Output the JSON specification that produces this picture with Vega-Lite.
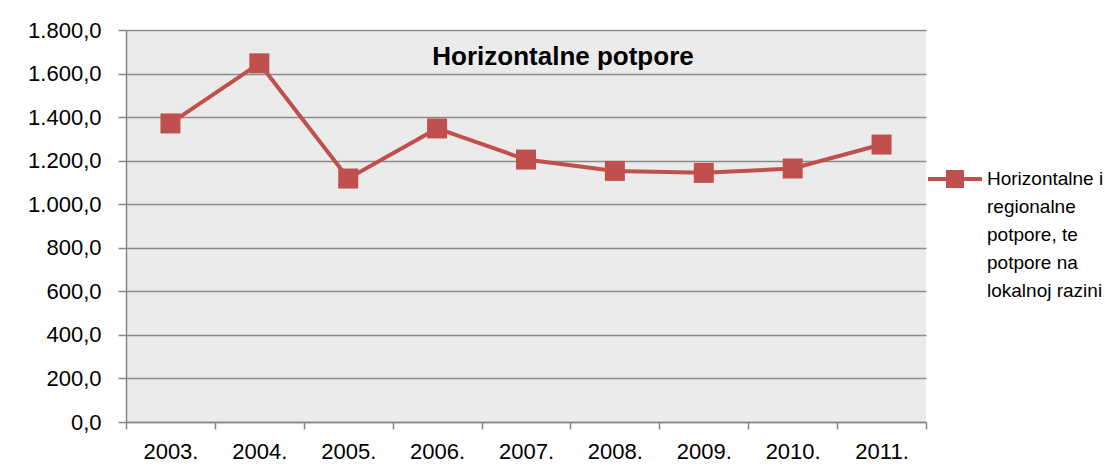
{
  "$schema": "https://vega.github.io/schema/vega-lite/v6.json",
  "autosize": "none",
  "width": 800,
  "height": 392,
  "padding": {"left": 126, "top": 30, "right": 179, "bottom": 46},
  "background": "white",
  "data": {"values": [
    {"year": "2003.", "value": 1371, "series": "Horizontalne i regionalne potpore, te potpore na lokalnoj razini"},
    {"year": "2004.", "value": 1647, "series": "Horizontalne i regionalne potpore, te potpore na lokalnoj razini"},
    {"year": "2005.", "value": 1118, "series": "Horizontalne i regionalne potpore, te potpore na lokalnoj razini"},
    {"year": "2006.", "value": 1348, "series": "Horizontalne i regionalne potpore, te potpore na lokalnoj razini"},
    {"year": "2007.", "value": 1205, "series": "Horizontalne i regionalne potpore, te potpore na lokalnoj razini"},
    {"year": "2008.", "value": 1153, "series": "Horizontalne i regionalne potpore, te potpore na lokalnoj razini"},
    {"year": "2009.", "value": 1144, "series": "Horizontalne i regionalne potpore, te potpore na lokalnoj razini"},
    {"year": "2010.", "value": 1164, "series": "Horizontalne i regionalne potpore, te potpore na lokalnoj razini"},
    {"year": "2011.", "value": 1274, "series": "Horizontalne i regionalne potpore, te potpore na lokalnoj razini"}
  ]},
  "title": {
    "text": "Horizontalne potpore",
    "font": "Liberation Sans",
    "fontSize": 26,
    "fontWeight": "bold",
    "color": "black",
    "anchor": "middle",
    "dx": 37,
    "dy": 38,
    "offset": -34,
    "baseline": "alphabetic"
  },
  "encoding": {
    "x": {
      "field": "year", "type": "ordinal", "title": null,
      "scale": {"paddingInner": 0, "paddingOuter": 0},
      "axis": {
        "labelAngle": 0, "tickBand": "extent", "tickSize": 7, "tickColor": "#868686", "tickWidth": 1.5,
        "domainColor": "#868686", "domainWidth": 1.5,
        "labelFont": "Liberation Sans", "labelFontSize": 22, "labelColor": "black",
        "labelPadding": 12
      }
    },
    "y": {
      "field": "value", "type": "quantitative", "title": null,
      "scale": {"domain": [0, 1800], "nice": false},
      "axis": {
        "values": [0, 200, 400, 600, 800, 1000, 1200, 1400, 1600, 1800],
        "labelExpr": "replace(replace(replace(format(datum.value, ',.1f'), ',', '#'), '.', ','), '#', '.')",
        "tickSize": 8, "tickColor": "#868686", "tickWidth": 1.5,
        "domainColor": "#868686", "domainWidth": 1.5,
        "grid": true, "gridColor": "#8a8a8a", "gridWidth": 1.5,
        "labelFont": "Liberation Sans", "labelFontSize": 22, "labelColor": "black",
        "labelPadding": 17
      }
    },
    "color": {
      "field": "series", "type": "nominal",
      "scale": {"range": ["#C0504D"]},
      "legend": {
        "title": null, "orient": "none", "legendX": 800, "legendY": 120,
        "padding": 0,
        "symbolType": "M-1,0L1,0M-0.26,-0.26H0.26V0.26H-0.26Z",
        "symbolSize": 2916, "symbolStrokeWidth": 4, "symbolFillColor": "#C0504D",
        "labelExpr": "['Horizontalne i', 'regionalne', 'potpore, te', 'potpore na', 'lokalnoj razini']",
        "labelFont": "Liberation Sans", "labelFontSize": 19, "labelColor": "black",
        "labelLimit": 300, "labelOffset": 3
      }
    }
  },
  "layer": [
    {"mark": {"type": "line", "strokeWidth": 4}},
    {"mark": {"type": "square", "size": 400, "opacity": 1, "filled": true}}
  ],
  "config": {
    "view": {"fill": "#EBEBEB", "stroke": null},
    "style": {"guide-label": {"lineHeight": 28}}
  }
}
